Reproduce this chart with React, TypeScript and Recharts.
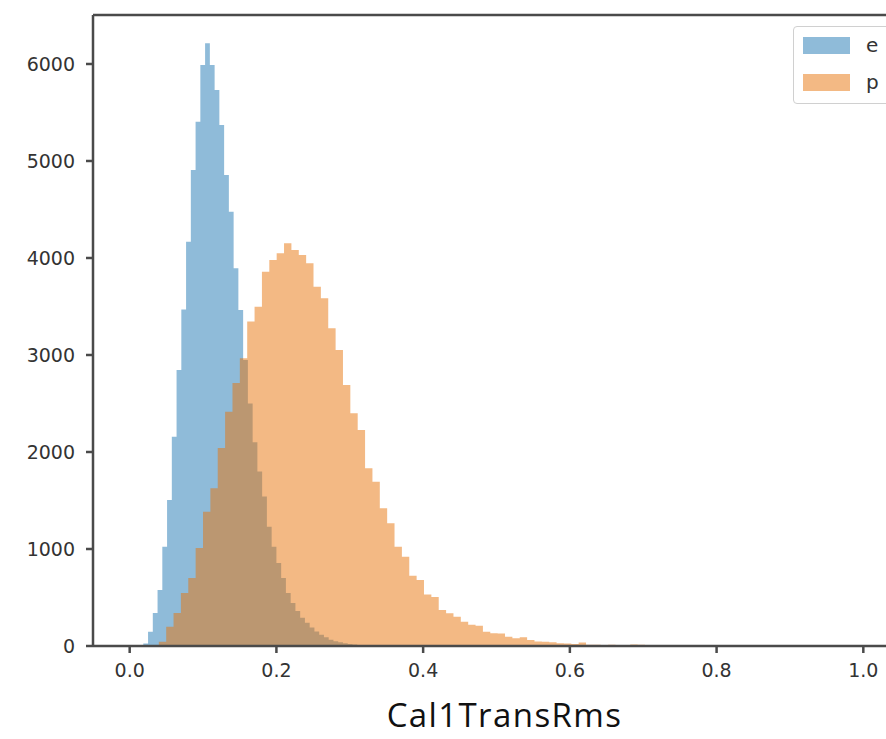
import React from 'react';
import { ComposedChart, Area, XAxis, YAxis, ReferenceLine } from 'recharts';

// histogram bins: left edge of first bin + bin width, counts per bin
const E_START = 0.0056;
const E_WIDTH = 0.00648;
const eCounts = [
  3, 10, 27, 147, 340, 577, 1024, 1505, 2158, 2845, 3470, 4168, 4907, 5405, 5990, 6213,
  5990, 5732, 5371, 4856, 4477, 3894, 3464, 2948, 2500, 2100, 1800, 1540, 1230, 1024, 856,
  700, 546, 443, 360, 290, 240, 190, 150, 115, 90, 65, 50, 38, 28, 20, 15, 10, 8, 5, 4, 2, 1,
];

const P_START = 0.0096;
const P_WIDTH = 0.01004;
const pCounts = [
  1, 3, 10, 45, 199, 340, 546, 701, 1010, 1385, 1626, 2040, 2416, 2711, 2966, 3344, 3498,
  3859, 3979, 4048, 4151, 4082, 4031, 3945, 3704, 3584, 3275, 3052, 2691, 2399, 2227, 1832,
  1694, 1419, 1265, 1024, 921, 725, 680, 530, 505, 371, 337, 302, 251, 220, 210, 147, 132,
  128, 96, 79, 89, 62, 47, 44, 38, 28, 26, 20, 35, 13, 12, 11, 12, 5, 5, 15, 14, 3,
];

const xTicks = [0, 0.2, 0.4, 0.6, 0.8, 1.0];
const yTicks = [0, 1000, 2000, 3000, 4000, 5000, 6000];
const X_DOMAIN: [number, number] = [-0.05, 1.05];
const Y_MAX = 6505;

const E_COLOR = '#1f77b4';
const P_COLOR = '#e87409';

const legendItems = [
  { label: 'e', color: E_COLOR },
  { label: 'p', color: P_COLOR },
];

function binValue(x: number, start: number, width: number, counts: number[]) {
  const i = Math.floor((x - start) / width + 1e-6);
  return i >= 0 && i < counts.length ? counts[i] : 0;
}

function buildRows() {
  const edges: number[] = [];
  for (let i = 0; i <= eCounts.length; i++) edges.push(+(E_START + i * E_WIDTH).toFixed(6));
  for (let i = 0; i <= pCounts.length; i++) edges.push(+(P_START + i * P_WIDTH).toFixed(6));
  const xs = Array.from(new Set(edges)).sort((a, b) => a - b);
  return xs.map((x) => ({
    x,
    e: binValue(x, E_START, E_WIDTH, eCounts),
    p: binValue(x, P_START, P_WIDTH, pCounts),
  }));
}

const rows = buildRows();

const tickStyle = { fontSize: 19, fill: '#333', fontFamily: 'DejaVu Sans' };
const axisStroke = { stroke: '#4a4a4a', strokeWidth: 2.5 };

export default function App() {
  return (
    <div style={{ position: 'absolute', left: 0, top: 0, width: 886, height: 739, overflow: 'hidden', background: '#fff' }}>
      <ComposedChart width={920} height={739} data={rows} margin={{ top: 15, right: 20, bottom: 0, left: 0 }}>
        <XAxis
          dataKey="x"
          type="number"
          domain={X_DOMAIN}
          ticks={xTicks}
          allowDataOverflow
          height={93}
          tickSize={7}
          tickMargin={11}
          tick={tickStyle}
          axisLine={axisStroke}
          tickLine={axisStroke}
          tickFormatter={(v: number) => v.toFixed(1)}
        />
        <YAxis
          type="number"
          domain={[0, Y_MAX]}
          ticks={yTicks}
          allowDataOverflow
          width={93}
          tickSize={7}
          tickMargin={11}
          tick={tickStyle}
          axisLine={axisStroke}
          tickLine={axisStroke}
        />
        <ReferenceLine y={Y_MAX} stroke="#4a4a4a" strokeWidth={2.5} />
        <Area
          dataKey="e"
          type="stepAfter"
          fill={E_COLOR}
          fillOpacity={0.5}
          stroke="none"
          isAnimationActive={false}
        />
        <Area
          dataKey="p"
          type="stepAfter"
          fill={P_COLOR}
          fillOpacity={0.5}
          stroke="none"
          isAnimationActive={false}
        />
      </ComposedChart>

      <div
        style={{
          position: 'absolute', left: 793, top: 26, width: 120, height: 78,
          border: '1px solid #d0d0d0', borderRadius: 4, background: 'rgba(255,255,255,0.8)',
          boxSizing: 'border-box', fontFamily: 'DejaVu Sans', fontSize: 20, color: '#333',
        }}
      >
        {legendItems.map((it, i) => (
          <div key={it.label} style={{ position: 'absolute', left: 9, top: 9 + i * 37, height: 18, display: 'flex', alignItems: 'center' }}>
            <span style={{ display: 'inline-block', width: 47, height: 17, background: it.color, opacity: 0.5 }} />
            <span style={{ marginLeft: 16, lineHeight: '18px' }}>{it.label}</span>
          </div>
        ))}
      </div>

      <div
        style={{
          position: 'absolute', left: 0, width: 1009, top: 698, textAlign: 'center',
          fontFamily: '"Open Sans"', fontWeight: 400, fontSize: 33, lineHeight: '33px',
          letterSpacing: 1.4, color: '#111',
        }}
      >
        Cal1TransRms
      </div>
    </div>
  );
}
